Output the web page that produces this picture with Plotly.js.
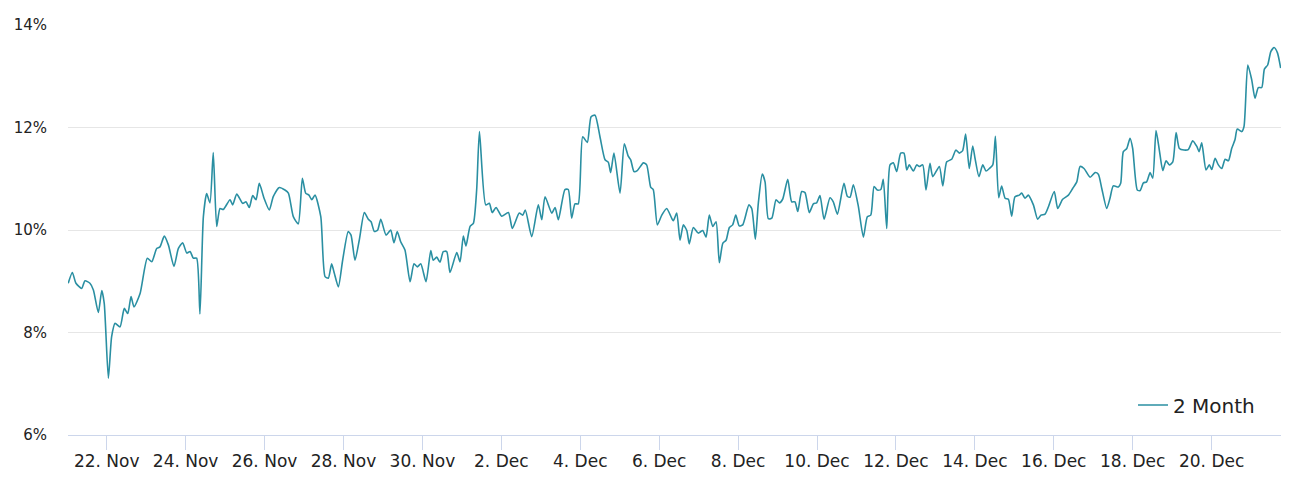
<!DOCTYPE html>
<html>
<head>
<meta charset="utf-8">
<script src="https://cdn.plot.ly/plotly-3.0.1.min.js"></script>
<style>
  html, body { margin: 0; padding: 0; background: #fff; }
  #chart { width: 1301px; height: 481px; }
</style>
</head>
<body>
<div id="chart"></div>
<script>
// hours after 21 Nov 00:00
var startDate = '2018-11-21T00:00:00Z';
var hours = [
  0.6, 3.1, 5.3, 8.8, 10.8, 13.8, 15.9, 18.9, 21.0, 22.5, 25.0, 27.0, 29.1, 32.1, 34.7, 36.8, 38.8, 40.6, 44.3,
  48.7, 51.4, 54.4, 56.4, 59.0, 61.5, 64.9, 67.6, 70.2, 72.7, 74.7, 76.7, 78.7, 80.7, 82.8, 84.8, 86.8, 88.8,
  90.9, 92.9, 94.9, 99.0, 100.6, 103.1, 106.7, 108.7, 110.7, 112.8, 114.8, 116.8, 119.7, 122.9, 125.3, 129.0,
  132.4, 134.5, 137.5, 140.5, 143.0, 145.0, 147.0, 148.7, 150.7, 154.2, 156.8, 158.8, 160.8, 162.4, 164.9,
  167.5, 170.9, 172.6, 175.0, 177.6, 180.7, 183.1, 184.8, 186.8, 188.8, 190.7, 193.9, 196.7, 198.7, 200.7,
  202.8, 205.4, 208.5, 210.9, 212.9, 215.0, 218.2, 221.1, 222.6, 224.7, 226.7, 228.7, 230.8, 232.8, 236.9,
  238.9, 240.9, 242.5, 245.0, 247.0, 249.0, 250.7, 254.5, 256.7, 258.5, 260.8, 264.2, 268.3, 270.7, 274.9,
  277.0, 278.6, 282.5, 286.5, 288.6, 290.6, 294.7, 296.7, 298.7, 302.7, 304.7, 306.8, 308.8, 310.8, 313.5,
  316.3, 318.6, 321.0, 324.0, 327.1, 329.1, 330.5, 332.5, 336.2, 338.8, 341.2, 342.7, 344.7, 346.7, 350.4,
  352.4, 354.9, 356.4, 358.9, 361.6, 364.6, 367.6, 368.6, 370.7, 372.7, 374.7, 376.8, 378.3, 380.8, 383.8,
  386.5, 388.5, 390.5, 392.6, 394.6, 396.6, 398.7, 400.7, 402.7, 404.7, 406.6, 408.7, 410.8, 414.6, 416.3,
  418.5, 420.3, 422.7, 424.4, 426.4, 428.5, 431.1, 433.1, 435.1, 438.2, 440.6, 442.6, 444.3, 446.7, 448.7,
  451.3, 453.8, 455.8, 457.8, 460.3, 463.9, 465.9, 468.4, 472.4, 474.4, 476.1, 478.1, 481.1, 484.2, 486.6,
  488.7, 490.7, 492.7, 494.8, 496.3, 498.4, 500.4, 502.4, 504.5, 506.9, 508.9, 510.6, 512.1, 514.6, 516.6,
  518.2, 520.3, 522.3, 524.7, 526.4, 530.4, 532.5, 534.9, 537.9, 540.5, 542.5, 544.6, 546.4, 548.6, 550.7,
  552.1, 554.5, 556.8, 558.8, 560.8, 562.9, 564.5, 566.5, 568.3, 570.4, 572.4, 574.4, 576.4, 579.0, 580.5,
  582.5, 584.5, 587.6, 590.2, 592.2, 594.7, 596.7, 600.3, 602.4, 605.4, 608.9, 611.5, 614.0, 616.0, 618.4,
  622.1, 625.1, 627.1, 629.2, 632.2, 634.2, 636.2, 639.3, 640.7, 642.3, 644.4, 646.4, 648.0, 650.8, 652.5,
  654.5, 656.5, 658.6, 660.2, 662.2, 664.2, 666.3, 668.3, 670.3, 672.4, 674.4, 676.4, 679.2, 681.8, 684.5,
  687.0, 688.4, 690.0, 692.6, 694.6, 696.1, 698.1, 700.1, 702.2, 704.2, 706.2, 708.2, 710.2, 711.6, 714.3,
  715.7, 718.0, 720.4, 722.4, 724.4, 726.5, 728.1, 730.1, 732.0, 734.0, 736.0, 738.0
];
// 2 Month rate, %
var rate = [
  8.96, 9.17, 8.96, 8.86, 9.01, 8.96, 8.83, 8.39, 8.82, 8.57, 7.11, 7.92, 8.18, 8.11, 8.47, 8.37, 8.70, 8.50, 8.76,
  9.45, 9.38, 9.64, 9.67, 9.88, 9.71, 9.29, 9.64, 9.75, 9.55, 9.58, 9.45, 9.45, 8.36, 10.26, 10.71, 10.53, 11.51,
  10.07, 10.42, 10.40, 10.59, 10.49, 10.70, 10.52, 10.55, 10.44, 10.67, 10.59, 10.91, 10.62, 10.39, 10.65, 10.83,
  10.78, 10.72, 10.26, 10.12, 11.01, 10.72, 10.68, 10.59, 10.68, 10.26, 9.09, 9.06, 9.34, 9.16, 8.89,
  9.41, 9.97, 9.90, 9.41, 9.80, 10.34, 10.21, 10.16, 9.97, 10.00, 10.21, 9.90, 10.00, 9.75, 9.97,
  9.77, 9.61, 8.99, 9.34, 9.28, 9.34, 8.99, 9.60, 9.41, 9.47, 9.37, 9.58, 9.58, 9.17, 9.56,
  9.38, 9.88, 9.69, 10.07, 10.13, 10.78, 11.92, 10.49, 10.52, 10.34, 10.44, 10.27, 10.34, 10.03, 10.33,
  10.29, 10.39, 9.87, 10.49, 10.20, 10.65, 10.33, 10.44, 10.20, 10.79, 10.79, 10.23, 10.51, 10.51, 11.82,
  11.71, 12.21, 12.24, 11.82, 11.37, 11.32, 11.12, 11.50, 10.72, 11.68, 11.44, 11.37, 11.14, 11.16, 11.31,
  11.27, 10.83, 10.79, 10.10, 10.29, 10.42, 10.23, 10.18, 10.33, 9.80, 10.10, 9.99, 9.73, 10.05, 9.94,
  9.99, 9.86, 10.29, 10.07, 10.16, 9.36, 9.74, 9.80, 10.05, 10.10, 10.29, 10.08, 10.10, 10.49, 10.42,
  9.82, 10.52, 11.09, 10.94, 10.22, 10.23, 10.59, 10.53, 10.60, 10.99, 10.55, 10.55, 10.36, 10.75, 10.73,
  10.34, 10.51, 10.53, 10.67, 10.21, 10.63, 10.55, 10.31, 10.91, 10.66, 10.64, 10.88, 10.47, 9.86, 10.26,
  10.29, 10.85, 10.78, 10.79, 10.99, 10.03, 11.27, 11.31, 11.14, 11.50, 11.50, 11.17, 11.27, 11.15, 11.27,
  11.24, 11.27, 10.78, 11.30, 11.04, 11.24, 10.86, 11.33, 11.38, 11.56, 11.50, 11.55, 11.87, 11.20, 11.64,
  11.40, 11.04, 11.27, 11.15, 11.20, 11.27, 11.83, 10.63, 10.86, 10.62, 10.60, 10.27, 10.65, 10.68, 10.72,
  10.62, 10.68, 10.49, 10.21, 10.29, 10.31, 10.45, 10.75, 10.42, 10.60, 10.68, 10.81, 10.94, 11.24, 11.20,
  11.03, 11.12, 11.09, 10.81, 10.42, 10.62, 10.86, 10.84, 10.91, 11.53, 11.59, 11.79, 11.59, 10.78, 10.77,
  10.92, 10.94, 11.12, 11.01, 11.94, 11.56, 11.16, 11.35, 11.27, 11.33, 11.90, 11.59, 11.56, 11.57, 11.74,
  11.63, 11.53, 11.70, 11.17, 11.27, 11.18, 11.40, 11.27, 11.20, 11.38, 11.35, 11.59, 11.76, 11.97, 11.92,
  12.02, 13.22, 12.93, 12.57, 12.78, 12.78, 13.14, 13.22, 13.48, 13.56, 13.46, 13.16
];
var seriesName = '2 Month';
var yTicks = [6, 8, 10, 12, 14];

function toDate(h) {
  var ms = Date.parse(startDate) + h * 3600000;
  return new Date(ms).toISOString().replace('T', ' ').slice(0, 19);
}

var times = hours.map(toDate);

var trace = {
  x: times,
  y: rate,
  name: seriesName,
  type: 'scatter',
  mode: 'lines',
  line: {color: '#2a8fa2', width: 1.6, shape: 'spline', smoothing: 0.6},
  hoverinfo: 'x+y'
};

var layout = {
  width: 1301,
  height: 481,
  margin: {l: 68, r: 20, t: 25, b: 46},
  paper_bgcolor: '#ffffff',
  plot_bgcolor: '#ffffff',
  font: {family: 'DejaVu Sans, sans-serif', color: '#222222'},
  showlegend: true,
  legend: {
    x: 0.878, y: 0.073, xanchor: 'left', yanchor: 'middle',
    bgcolor: 'rgba(0,0,0,0)',
    font: {size: 20, color: '#222222'}
  },
  xaxis: {
    type: 'date',
    range: [toDate(0.46), toDate(738.2)],
    tick0: '2018-11-22',
    dtick: 2 * 86400000,
    tickformat: '%-d. %b',
    ticks: 'outside',
    ticklen: 14,
    tickwidth: 1,
    tickcolor: '#ccd6eb',
    showline: true,
    linecolor: '#ccd6eb',
    linewidth: 1,
    showgrid: false,
    zeroline: false,
    ticklabelstandoff: -3,
    tickfont: {size: 17, color: '#222222'},
    fixedrange: true
  },
  yaxis: {
    range: [6, 14],
    tickvals: yTicks,
    ticktext: yTicks.map(function (v) { return v + '%'; }),
    showgrid: true,
    gridcolor: '#e6e6e6',
    gridwidth: 1,
    showline: false,
    zeroline: false,
    ticks: '',
    ticklabelstandoff: 20,
    tickfont: {size: 15, color: '#222222'},
    fixedrange: true
  }
};

Plotly.newPlot('chart', [trace], layout, {displayModeBar: false, staticPlot: true});
</script>
</body>
</html>
